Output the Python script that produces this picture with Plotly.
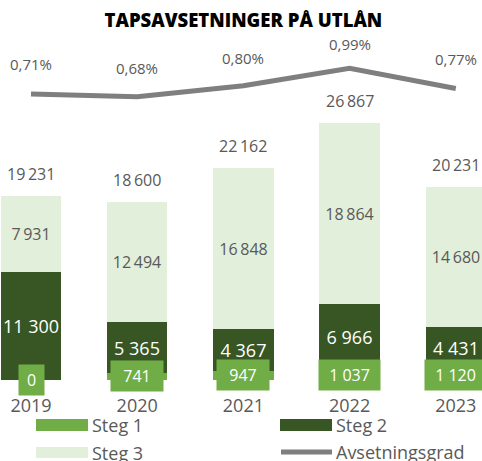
import plotly.graph_objects as go

# ---- data ----
years = ["2019", "2020", "2021", "2022", "2023"]
steg1 = [0, 741, 947, 1037, 1120]
steg2 = [11300, 5365, 4367, 6966, 4431]
steg3 = [7931, 12494, 16848, 18864, 14680]
avsetningsgrad = [0.71, 0.68, 0.80, 0.99, 0.77]

totals = [a + b + c for a, b, c in zip(steg1, steg2, steg3)]
xs = list(range(len(years)))

# ---- styles ----
C1 = "#70AD47"
C2 = "#375623"
C3 = "#E2EFDA"
CLINE = "#7F7F7F"
TXT = "#595959"
FONT = "Open Sans"

W, H = 482, 461
PX_PER_CAT = 106.2
X0 = 31.0
BASE_PX = 380.0
Y_SCALE = 0.009555         # px per unit (bars)
PCT_SCALE = 91.6           # px per 1 %-point (line)
PCT_ZERO_PX = 159.0


def fmt(v, sep="\u2009"):
    s = f"{v:,}".replace(",", sep)
    return s


def fmt_pct(v):
    return f"{v:.2f}".replace(".", ",") + "%"


fig = go.Figure()

fig.add_trace(go.Bar(
    x=xs, y=steg1, name="Steg 1", marker=dict(color=C1, line=dict(width=0)),
    width=0.57, showlegend=False, hoverinfo="skip", cliponaxis=False,
))
fig.add_trace(go.Bar(
    x=xs, y=steg2, name="Steg 2", marker=dict(color=C2, line=dict(width=0)),
    width=0.57, showlegend=False, text=[fmt(v, " ") for v in steg2],
    textposition="inside", insidetextanchor="middle", textangle=0,
    constraintext="none", cliponaxis=False,
    textfont=dict(family=FONT, size=18, color="white"), hoverinfo="skip",
))
fig.add_trace(go.Bar(
    x=xs, y=steg3, name="Steg 3", marker=dict(color=C3, line=dict(width=0)),
    width=0.57, showlegend=False, text=[fmt(v) for v in steg3],
    textposition="inside", insidetextanchor="middle", textangle=0,
    constraintext="none", cliponaxis=False,
    textfont=dict(family=FONT, size=16, color=TXT), hoverinfo="skip",
))
fig.add_trace(go.Scatter(
    x=xs, y=avsetningsgrad, name="Avsetningsgrad", yaxis="y2", mode="lines",
    line=dict(color=CLINE, width=5), showlegend=False, hoverinfo="skip",
    cliponaxis=False,
))

annotations = []
# Steg 1 labels with green background
for i, v in enumerate(steg1):
    w = 17 if v == 0 else (44 if v < 1000 else 53)
    annotations.append(dict(
        x=i, y=v / 2, xref="x", yref="y", text=fmt(v, " "), showarrow=False,
        font=dict(family=FONT, size=16, color="white"), bgcolor=C1,
        borderpad=4, width=w, height=22, xanchor="center", yanchor="middle",
    ))
# totals
for i, t in enumerate(totals):
    annotations.append(dict(
        x=i, y=t, xref="x", yref="y", text=fmt(t), showarrow=False,
        font=dict(family=FONT, size=16, color=TXT), yshift=22,
        xanchor="center", yanchor="middle",
    ))
# percentage labels
pct_shift = [30, 29, 28, 24, 29]
for i, p in enumerate(avsetningsgrad):
    annotations.append(dict(
        x=i, y=p, xref="x", yref="y2", text=fmt_pct(p), showarrow=False,
        font=dict(family=FONT, size=15, color=TXT), yshift=pct_shift[i],
        xanchor="center", yanchor="middle",
    ))


# ---- manual legend ----
def px_x(px):
    return px / W


def px_y(py):
    return (BASE_PX - py) / BASE_PX


shapes = []
legend_items = [
    ("Steg 1", "bar", C1, 36, 419, 431),
    ("Steg 2", "bar", C2, 280, 419, 431),
    ("Steg 3", "bar", C3, 36, 447, 458),
    ("Avsetningsgrad", "line", CLINE, 280, 452, 452),
]
for label, kind, col, lx, y0, y1 in legend_items:
    if kind == "bar":
        shapes.append(dict(type="rect", xref="paper", yref="paper",
                           x0=px_x(lx), x1=px_x(lx + 52), y0=px_y(y1), y1=px_y(y0),
                           fillcolor=col, line=dict(width=0), layer="above"))
    else:
        shapes.append(dict(type="line", xref="paper", yref="paper",
                           x0=px_x(lx + 1), x1=px_x(lx + 52), y0=px_y(y0), y1=px_y(y0),
                           line=dict(color=col, width=5), layer="above"))
    annotations.append(dict(
        x=px_x(lx + 54), y=px_y((y0 + y1) / 2), xref="paper", yref="paper",
        text=label, showarrow=False, xanchor="left", yanchor="middle",
        font=dict(family=FONT, size=18, color=TXT),
    ))

x_lo = -X0 / PX_PER_CAT
x_hi = (W - X0) / PX_PER_CAT
y_hi = BASE_PX / Y_SCALE
y2_lo = -(BASE_PX - PCT_ZERO_PX) / PCT_SCALE
y2_hi = PCT_ZERO_PX / PCT_SCALE

fig.update_layout(
    width=W, height=H,
    margin=dict(l=0, r=0, t=0, b=int(H - BASE_PX), autoexpand=False),
    paper_bgcolor="white", plot_bgcolor="white",
    barmode="stack", bargap=0,
    showlegend=False,
    title=dict(text="TAPSAVSETNINGER PÅ UTLÅN", x=0.505, xanchor="center",
               y=1 - 21 / H, yanchor="middle", yref="container",
               font=dict(family=FONT, size=18.5, color="black", weight=800)),
    xaxis=dict(range=[x_lo, x_hi], tickvals=xs, ticktext=years, showgrid=False,
               zeroline=False, showline=False, ticks="", automargin=False,
               ticklabelstandoff=13,
               tickfont=dict(family=FONT, size=18, color=TXT), fixedrange=True),
    yaxis=dict(range=[0, y_hi], visible=False, showgrid=False, zeroline=False),
    yaxis2=dict(range=[y2_lo, y2_hi], overlaying="y", visible=False,
                showgrid=False, zeroline=False),
    annotations=annotations,
    shapes=shapes,
    font=dict(family=FONT),
)

fig.write_html(
    "out.html",
    config={"displayModeBar": False},
    post_script="document.body.style.margin='0';document.body.style.padding='0';",
)
